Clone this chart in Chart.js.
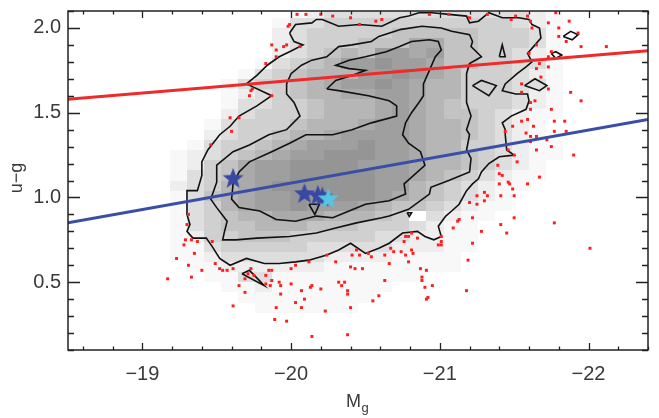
<!DOCTYPE html>
<html>
<head>
<meta charset="utf-8">
<script src="https://cdn.jsdelivr.net/npm/chart.js@4.4.1/dist/chart.umd.min.js"></script>
<style>
  html, body { margin: 0; padding: 0; background: #fff; }
  #wrap { width: 659px; height: 418px; }
</style>
</head>
<body>
<div id="wrap"><canvas id="cmd-chart"></canvas></div>
<script>
// axis ticks
const xTicks = [-19, -20, -21, -22];
const yTicks = [0.5, 1.0, 1.5, 2.0];

// fitted colour cuts (two end points each)
const cutX = [-18.5, -22.4];
const redCutY = [1.58, 1.865];
const blueCutY = [0.85, 1.46];

// stars
const starsX = [-19.61, -20.09, -20.18, -20.21];
const starsY = [1.11, 1.02, 1.01, 1.00];
const cyanStar = [-20.25, 0.99];

// 2D histogram: bins of 0.115 mag (going brighter) and 0.06 in u-g, top row first
const binX0 = -19.07, binDX = 0.115;
const binY0 = 0.26, binDY = 0.06;
const density = [
  "0000000012333333333333210",
  "0000000133444444444443210",
  "0000000234444455555444310",
  "0000000234445557755444310",
  "0000000234565887855443210",
  "0000001345688988755443310",
  "0000013456668898764443210",
  "0000134456788987664443310",
  "0000123456677887664443210",
  "0000133445666787654443210",
  "0000234445666787655432110",
  "0001344456667887665432100",
  "0002344566788887665432100",
  "0013445678889887664432110",
  "0123456788999887665432110",
  "0124578899998887665432100",
  "0134578899999887654321100",
  "0234678999999886543211000",
  "0135678899999876543210000",
  "0134678898887655432110000",
  "0134566777666540321100000",
  "0134556665554443211000000",
  "0124455544444332211000000",
  "0113444443333322211000000",
  "0112333333222211110000000",
  "0011222222111111110000000",
  "0001133111111111000000000",
  "0000112111111100000000000",
  "0000011111111000000000000",
  "0000001111110000000000000",
  "0000000000000000000000000"
];

// contour levels
const outerContour = [
  [-19.99,1.97],[-20.03,2.02],[-20.14,2.03],[-20.17,2.05],[-20.21,2.05],[-20.32,2.01],[-20.46,2.02],[-20.61,2.01],
  [-20.73,2.06],[-20.79,2.07],[-20.86,2.09],[-20.95,2.09],[-21.06,2.08],[-21.18,2.07],[-21.20,2.03],[-21.26,2.04],
  [-21.33,2.09],[-21.42,2.06],[-21.53,2.06],[-21.60,2.05],[-21.62,2.02],[-21.67,2.00],[-21.68,1.94],[-21.64,1.90],
  [-21.59,1.85],[-21.62,1.80],[-21.58,1.77],[-21.52,1.73],[-21.44,1.67],[-21.42,1.63],[-21.51,1.61],[-21.59,1.61],
  [-21.60,1.57],[-21.58,1.52],[-21.48,1.48],[-21.42,1.44],[-21.44,1.40],[-21.44,1.37],[-21.45,1.28],[-21.50,1.25],
  [-21.40,1.24],[-21.33,1.20],[-21.28,1.15],[-21.26,1.11],[-21.22,1.08],[-21.18,1.04],[-21.13,0.96],[-21.08,0.92],
  [-21.04,0.89],[-20.99,0.83],[-21.01,0.77],[-20.96,0.75],[-20.90,0.77],[-20.85,0.80],[-20.75,0.79],[-20.66,0.73],
  [-20.59,0.70],[-20.50,0.67],[-20.40,0.73],[-20.32,0.69],[-20.24,0.66],[-20.12,0.63],[-20.03,0.62],[-19.92,0.61],
  [-19.82,0.61],[-19.70,0.64],[-19.59,0.60],[-19.52,0.64],[-19.47,0.71],[-19.43,0.76],[-19.34,0.76],[-19.30,0.80],
  [-19.32,0.84],[-19.30,0.90],[-19.30,0.96],[-19.30,1.04],[-19.37,1.04],[-19.40,1.13],[-19.40,1.21],[-19.44,1.28],
  [-19.52,1.37],[-19.59,1.42],[-19.65,1.48],[-19.77,1.54],[-19.87,1.60],[-19.70,1.67],[-19.77,1.72],[-19.84,1.78],
  [-19.92,1.83],[-19.99,1.86],[-20.08,1.90],[-20.02,1.92],[-19.99,1.97]
];
const midContour = [
  [-20.73,1.99],[-20.88,2.01],[-21.01,2.00],[-21.08,1.98],[-21.20,1.96],[-21.22,1.92],[-21.21,1.89],[-21.28,1.83],
  [-21.20,1.79],[-21.18,1.73],[-21.18,1.63],[-21.18,1.56],[-21.21,1.48],[-21.18,1.40],[-21.20,1.37],[-21.18,1.28],
  [-21.21,1.23],[-21.20,1.15],[-21.06,1.10],[-20.94,1.06],[-20.93,1.02],[-20.79,0.93],[-20.66,0.89],[-20.61,0.88],
  [-20.44,0.85],[-20.30,0.82],[-20.17,0.79],[-19.99,0.77],[-19.77,0.76],[-19.63,0.75],[-19.54,0.75],[-19.55,0.79],
  [-19.57,0.86],[-19.50,0.94],[-19.46,0.99],[-19.50,1.09],[-19.50,1.19],[-19.61,1.27],[-19.72,1.31],[-19.85,1.37],
  [-19.97,1.40],[-20.06,1.48],[-20.02,1.56],[-19.97,1.61],[-19.97,1.67],[-20.00,1.73],[-20.07,1.78],[-20.14,1.81],
  [-20.24,1.83],[-20.32,1.89],[-20.41,1.90],[-20.54,1.92],[-20.59,1.95],[-20.73,1.99]
];
const innerContour = [
  [-20.24,1.64],[-20.32,1.63],[-20.52,1.60],[-20.66,1.57],[-20.71,1.54],[-20.71,1.48],[-20.54,1.44],[-20.41,1.40],
  [-20.28,1.37],[-20.10,1.37],[-19.99,1.32],[-19.87,1.27],[-19.72,1.21],[-19.65,1.15],[-19.61,1.08],[-19.60,0.99],
  [-19.65,0.94],[-19.79,0.92],[-19.90,0.87],[-20.03,0.86],[-20.17,0.89],[-20.28,0.88],[-20.39,0.92],[-20.50,0.96],
  [-20.66,0.98],[-20.77,1.02],[-20.76,1.08],[-20.90,1.19],[-20.87,1.27],[-20.79,1.32],[-20.75,1.37],[-20.77,1.44],
  [-20.81,1.50],[-20.86,1.56],[-20.89,1.60],[-20.89,1.67],[-20.93,1.75],[-20.97,1.83],[-21.01,1.87],[-20.99,1.92],
  [-20.93,1.93],[-20.81,1.92],[-20.73,1.89],[-20.64,1.86],[-20.50,1.83],[-20.39,1.81],[-20.30,1.78],[-20.39,1.76],
  [-20.50,1.75],[-20.41,1.72],[-20.30,1.69],[-20.24,1.64]
];
const innerBlip = [[-20.12,0.96],[-20.19,0.96],[-20.16,0.90],[-20.12,0.96]];
const midIslandA = [[-21.40,1.83],[-21.42,1.90],[-21.44,1.83],[-21.40,1.83]];
const midIslandB = [[-21.22,1.66],[-21.28,1.69],[-21.38,1.66],[-21.33,1.60],[-21.22,1.66]];
const outerIslandA = [[-21.57,1.66],[-21.64,1.70],[-21.72,1.66],[-21.67,1.63],[-21.57,1.66]];
const outerIslandB = [[-21.75,1.85],[-21.78,1.86],[-21.82,1.84],[-21.78,1.82],[-21.75,1.85]];
const outerIslandC = [[-21.83,1.95],[-21.88,1.98],[-21.93,1.96],[-21.89,1.93],[-21.83,1.95]];
const outerIslandD = [[-19.67,0.55],[-19.72,0.57],[-19.82,0.48],[-19.67,0.55]];
const cellMark = [[-20.78,0.91],[-20.81,0.91],[-20.795,0.888],[-20.78,0.91]];

// galaxies outside the contours
const outliers = [
  [-20.04,2.08],[-20.10,2.08],[-20.20,2.08],[-20.28,2.07],[-20.40,2.06],[-20.46,2.02],[-20.57,2.04],[-20.61,2.05],
  [-19.98,2.01],[-19.99,2.02],[-19.87,1.90],[-19.90,1.87],[-19.95,1.89],[-19.97,1.90],[-20.06,1.89],[-19.90,1.83],
  [-19.83,1.79],[-19.74,1.64],[-19.73,1.63],[-19.72,1.60],[-19.87,1.60],[-19.59,1.47],[-19.65,1.47],[-19.60,1.39],
  [-19.46,1.31],
  [-20.93,2.08],[-21.06,2.08],[-21.20,2.06],[-21.32,2.08],[-21.48,2.05],[-21.51,2.07],[-21.59,2.07],[-21.61,2.04],
  [-21.73,2.03],[-21.78,2.09],[-21.87,2.04],[-21.62,2.00],[-21.80,2.00],[-21.80,1.95],[-21.85,1.92],[-21.93,1.97],
  [-21.95,1.89],[-22.12,1.89],[-21.75,1.86],[-21.73,1.83],[-21.65,1.90],[-21.60,1.85],[-21.67,1.79],[-21.73,1.77],
  [-21.65,1.76],[-21.68,1.71],[-21.55,1.67],[-21.73,1.64],[-21.55,1.62],[-21.88,1.62],[-21.95,1.57],[-21.64,1.57],
  [-21.61,1.56],[-21.61,1.52],[-21.75,1.52],[-21.59,1.46],[-21.55,1.45],[-21.77,1.45],[-21.84,1.45],[-21.49,1.42],
  [-21.63,1.42],[-21.44,1.39],[-21.58,1.38],[-21.61,1.36],[-21.65,1.36],[-21.77,1.39],[-21.85,1.39],[-21.72,1.34],
  [-21.61,1.33],[-21.65,1.28],[-21.75,1.30],[-21.46,1.28],[-21.50,1.25],[-21.90,1.25],[-21.52,1.21],[-21.39,1.19],
  [-21.40,1.14],[-21.42,1.13],[-21.67,1.12],[-21.59,1.08],[-21.40,1.08],[-21.46,1.09],[-21.47,1.08],[-21.49,1.05],
  [-21.30,1.03],[-21.50,1.01],[-21.41,1.01],[-21.25,1.01],[-21.32,1.01],[-21.30,0.98],[-21.20,0.97],[-21.25,0.96],
  [-21.50,0.88],[-21.22,0.88],[-21.12,0.86],[-21.13,0.87],[-21.41,0.84],[-21.77,0.85],[-21.09,0.82],[-21.28,0.80],
  [-21.45,0.79],[-21.01,0.77],[-21.01,0.74],[-20.85,0.76],[-20.81,0.79],[-20.79,0.77],[-20.77,0.77],[-20.76,0.74],
  [-21.22,0.73],[-20.99,0.72],[-21.01,0.72],[-20.67,0.70],[-20.69,0.68],[-20.74,0.68],[-20.81,0.69],[-20.82,0.67],
  [-20.77,0.66],[-20.79,0.62],[-22.01,0.70],[-21.19,0.63],[-20.87,0.58],[-20.91,0.57],[-20.88,0.53],[-20.88,0.51],
  [-20.95,0.48],[-20.90,0.47],[-21.18,0.45],[-20.92,0.41],[-20.91,0.40],[-20.66,0.61],
  [-19.40,0.57],[-19.49,0.61],[-19.52,0.58],[-19.54,0.57],[-19.57,0.57],[-19.61,0.58],[-19.73,0.58],[-19.75,0.54],
  [-19.69,0.52],[-19.65,0.48],[-19.69,0.44],[-19.85,0.57],[-19.87,0.57],[-19.83,0.54],[-19.87,0.51],[-19.83,0.49],
  [-19.86,0.48],[-19.92,0.50],[-19.93,0.48],[-19.93,0.43],[-20.00,0.58],[-20.03,0.60],[-20.00,0.49],[-20.07,0.45],
  [-20.09,0.40],[-20.03,0.38],[-20.07,0.35],[-19.90,0.35],[-19.89,0.28],[-19.97,0.27],[-19.61,0.36],[-20.14,0.48],
  [-20.13,0.47],[-20.20,0.46],[-20.23,0.33],[-20.12,0.62],[-20.14,0.18],[-20.30,0.62],[-20.32,0.50],[-20.34,0.48],
  [-20.36,0.50],[-20.38,0.45],[-20.38,0.43],[-20.40,0.35],[-20.38,0.19],[-20.24,0.66],[-20.41,0.66],[-20.44,0.69],
  [-20.46,0.66],[-20.40,0.59],[-20.43,0.58],[-20.48,0.58],[-20.54,0.65],[-20.52,0.67],[-20.63,0.66],[-20.63,0.51],
  [-20.59,0.42],[-20.55,0.39],
  [-19.31,0.90],[-19.30,0.84],[-19.29,0.75],[-19.28,0.72],[-19.33,0.75],[-19.37,0.74],[-19.47,0.74],[-19.35,0.67],
  [-19.23,0.64],[-19.31,0.60],[-19.33,0.53],[-19.17,0.52],[-19.71,0.55]
];

const grays = ['#ffffff', '#f8f8f8', '#eeeeee', '#dedede', '#d0d0d0', '#c3c3c3', '#b6b6b6', '#aaaaaa', '#9f9f9f', '#959595'];
const FONT = '"Liberation Sans", Arial, Helvetica, sans-serif';
const TEXT = '#3a3a3a';

const xy = arr => arr.map(([x, y]) => ({x: x, y: y}));

function makeStar(color, R) {
  const s = Math.ceil(R * 2 + 2);
  const c = document.createElement('canvas');
  c.width = s; c.height = s;
  const g = c.getContext('2d');
  g.fillStyle = color;
  g.beginPath();
  for (let i = 0; i < 10; i++) {
    const r = i % 2 ? R * 0.42 : R;
    const a = -Math.PI / 2 + i * Math.PI / 5;
    g.lineTo(s / 2 + r * Math.cos(a), s / 2 + r * Math.sin(a));
  }
  g.closePath();
  g.fill();
  return c;
}

// grey cells of the histogram, drawn under everything
const heatPlugin = {
  id: 'heat',
  beforeDatasetsDraw(chart) {
    const {ctx, chartArea: a, scales: {x, y}} = chart;
    const n = density.length;
    ctx.save();
    ctx.beginPath();
    ctx.rect(a.left, a.top, a.width, a.height);
    ctx.clip();
    density.forEach((row, i) => {
      const r = n - 1 - i;
      const y0 = Math.round(y.getPixelForValue(binY0 + r * binDY));
      const y1 = Math.round(y.getPixelForValue(binY0 + (r + 1) * binDY));
      for (let c = 0; c < row.length; c++) {
        const lv = +row[c];
        if (!lv) continue;
        const x0 = Math.round(x.getPixelForValue(binX0 - c * binDX));
        const x1 = Math.round(x.getPixelForValue(binX0 - (c + 1) * binDX));
        ctx.fillStyle = grays[lv];
        ctx.fillRect(Math.min(x0, x1), Math.min(y0, y1), Math.abs(x1 - x0), Math.abs(y1 - y0));
      }
    });
    ctx.restore();
  }
};

// box, inward ticks and axis titles
const framePlugin = {
  id: 'frame',
  afterDatasetsDraw(chart) {
    const {ctx, chartArea: a, scales: {x, y}} = chart;
    ctx.save();
    ctx.strokeStyle = '#222';
    ctx.lineWidth = 1.3;
    ctx.beginPath();
    for (let k = 93; k <= 112; k++) {
      const px = Math.round(x.getPixelForValue(-k * 0.2)) + 0.5;
      const len = k % 5 === 0 ? 7 : 3.5;
      ctx.moveTo(px, a.bottom); ctx.lineTo(px, a.bottom - len);
      ctx.moveTo(px, a.top); ctx.lineTo(px, a.top + len);
    }
    for (let k = 1; k <= 21; k++) {
      const py = Math.round(y.getPixelForValue(k * 0.1)) + 0.5;
      const len = k % 5 === 0 ? 12 : 6;
      ctx.moveTo(a.left, py); ctx.lineTo(a.left + len, py);
      ctx.moveTo(a.right, py); ctx.lineTo(a.right - len, py);
    }
    ctx.stroke();
    ctx.lineWidth = 1.5;
    ctx.strokeRect(a.left, a.top, a.width, a.height);
    ctx.restore();
  },
  afterDraw(chart) {
    const {ctx} = chart;
    ctx.save();
    ctx.fillStyle = TEXT;
    ctx.font = '18px ' + FONT;
    ctx.textAlign = 'center';
    ctx.textBaseline = 'middle';
    ctx.translate(17, 178);
    ctx.rotate(-Math.PI / 2);
    ctx.fillText('u\u2212g', 0, 0);
    ctx.restore();

    ctx.save();
    ctx.fillStyle = TEXT;
    ctx.textAlign = 'left';
    ctx.textBaseline = 'alphabetic';
    ctx.font = '18px ' + FONT;
    const wM = ctx.measureText('M').width;
    ctx.fillText('M', 346, 407);
    ctx.font = '13px ' + FONT;
    ctx.fillText('g', 346 + wM + 0.5, 412);
    ctx.restore();
  }
};

const contourSets = [outerContour, midContour, innerContour, innerBlip, midIslandA, midIslandB,
  outerIslandA, outerIslandB, outerIslandC, outerIslandD, cellMark];

const datasets = [
  {
    data: [{x: cyanStar[0], y: cyanStar[1]}],
    pointStyle: makeStar('#55c6e4', 11),
    pointRadius: 10,
    order: 0
  },
  {
    data: starsX.map((v, i) => ({x: v, y: starsY[i]})),
    pointStyle: makeStar('#3949a3', 11),
    pointRadius: 10,
    order: 1
  },
  {
    data: cutX.map((v, i) => ({x: v, y: redCutY[i]})),
    showLine: true, borderColor: '#ee2a2a', borderWidth: 3, pointRadius: 0,
    order: 2
  },
  {
    data: cutX.map((v, i) => ({x: v, y: blueCutY[i]})),
    showLine: true, borderColor: '#3a4ea6', borderWidth: 3, pointRadius: 0,
    order: 2
  },
  {
    data: xy(outliers),
    pointStyle: 'rect', pointRadius: 2.1, pointBackgroundColor: '#ff1e1e', pointBorderWidth: 0,
    order: 3
  }
].concat(contourSets.map(c => ({
  data: xy(c),
  showLine: true, borderColor: '#111111', borderWidth: 1.6, pointRadius: 0, tension: 0,
  order: 4
})));

// no automatic label padding: the plot box is fixed
const noPad = s => { s.paddingTop = 0; s.paddingBottom = 0; s.paddingLeft = 0; s.paddingRight = 0; };

new Chart(document.getElementById('cmd-chart'), {
  type: 'scatter',
  data: {datasets: datasets},
  plugins: [heatPlugin, framePlugin],
  options: {
    responsive: true,
    maintainAspectRatio: false,
    animation: false,
    events: [],
    layout: {padding: {top: 6, right: 10, left: 0, bottom: 0}},
    plugins: {legend: {display: false}, tooltip: {enabled: false}},
    scales: {
      x: {
        type: 'linear', reverse: true, min: -22.4, max: -18.5,
        afterBuildTicks: s => { s.ticks = xTicks.map(v => ({value: v})); },
        afterFit: s => { s.height = 68; noPad(s); },
        grid: {display: false, drawTicks: false},
        border: {display: false},
        ticks: {
          padding: 12, color: TEXT, maxRotation: 0, autoSkip: false,
          font: {family: FONT, size: 20},
          callback: v => '\u2212' + Math.abs(v)
        }
      },
      y: {
        type: 'linear', min: 0.1, max: 2.1,
        afterBuildTicks: s => { s.ticks = yTicks.map(v => ({value: v})); },
        afterFit: s => { s.width = 68; noPad(s); },
        grid: {display: false, drawTicks: false},
        border: {display: false},
        ticks: {
          padding: 7, color: TEXT, autoSkip: false,
          font: {family: FONT, size: 20},
          callback: v => v.toFixed(1)
        }
      }
    }
  }
});
</script>
</body>
</html>
